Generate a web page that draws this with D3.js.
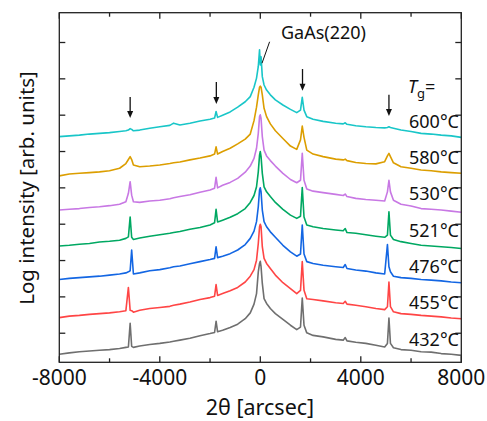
<!DOCTYPE html>
<html><head><meta charset="utf-8">
<script src="https://cdn.jsdelivr.net/npm/d3@7"></script>
<style>body{margin:0;background:#fff}svg{display:block}text{font-family:"Noto Sans","Open Sans",sans-serif;fill:#111}</style>
</head><body><svg id="c" width="487" height="421"></svg>
<script>
// 2θ positions (arcsec), shared by all scans
const twoTheta = [-8000,-7600,-7200,-6800,-6400,-6000,-5600,-5350,-5250,-5180,-5120,-5050,-4800,-4400,-4000,-3600,-3450,-3200,-2800,-2400,-2000,-1820,-1760,-1700,-1500,-1200,-900,-600,-400,-250,-150,-80,-30,0,30,80,150,250,400,600,900,1200,1450,1600,1670,1740,1850,2100,2500,3000,3300,3380,3450,3800,4200,4600,4950,5060,5120,5180,5300,5600,6000,6400,6800,7200,7600,8000];
// growth temperatures (bottom to top)
const temps = ["432°C","455°C","476°C","521°C","530°C","580°C","600°C"];
const colors = ["#6f6f6f","#ff4545","#1366e3","#00a862","#c878e4","#dc9e00","#19c6c8"];
// log10 intensity (arb. units, vertically offset scans)
const s432 = [-0.58,-0.54,-0.51,-0.49,-0.47,-0.45,-0.42,-0.39,-0.38,0.27,-0.36,-0.39,-0.35,-0.31,-0.28,-0.24,-0.22,-0.19,-0.14,-0.07,-0.01,0.02,0.33,0.04,0.08,0.16,0.25,0.40,0.56,0.80,1.09,1.69,1.92,1.98,1.83,1.37,0.95,0.82,0.68,0.54,0.38,0.22,0.10,0.17,0.97,0.22,0.01,-0.06,-0.10,-0.17,-0.19,-0.12,-0.21,-0.25,-0.28,-0.33,-0.38,-0.28,0.42,-0.28,-0.40,-0.45,-0.47,-0.51,-0.52,-0.56,-0.58,-0.61];
const s455 = [0.43,0.47,0.49,0.52,0.54,0.56,0.59,0.62,1.26,0.63,0.62,0.58,0.63,0.68,0.71,0.74,0.77,0.80,0.86,0.93,0.98,1.02,1.34,1.04,1.09,1.17,1.26,1.41,1.57,1.75,2.01,2.47,2.93,3.00,2.93,2.38,2.06,1.92,1.78,1.60,1.39,1.23,1.09,1.18,1.97,1.18,0.95,0.93,0.89,0.84,0.82,0.88,0.80,0.77,0.73,0.68,0.65,0.73,1.41,0.73,0.59,0.54,0.52,0.49,0.47,0.45,0.42,0.40];
const s476 = [1.48,1.51,1.53,1.55,1.57,1.60,1.63,1.66,1.69,1.72,2.29,1.63,1.66,1.72,1.75,1.80,1.83,1.85,1.91,1.97,2.03,2.06,2.38,2.08,2.12,2.19,2.29,2.44,2.61,2.81,3.07,3.48,3.94,4.00,3.89,3.39,3.07,2.93,2.79,2.64,2.42,2.24,2.12,2.18,2.98,2.18,1.97,1.92,1.87,1.83,1.81,1.89,1.78,1.74,1.71,1.66,1.63,2.44,1.83,1.69,1.57,1.53,1.51,1.48,1.46,1.44,1.41,1.39];
const s521 = [2.40,2.42,2.45,2.47,2.51,2.53,2.56,2.61,2.65,3.20,2.64,2.58,2.62,2.67,2.71,2.75,2.77,2.80,2.86,2.91,2.98,3.04,3.41,3.06,3.11,3.19,3.29,3.43,3.60,3.79,4.03,4.44,4.90,5.00,4.86,4.40,4.03,3.89,3.76,3.60,3.41,3.25,3.16,3.22,4.01,3.20,2.98,2.93,2.88,2.84,2.82,2.88,2.77,2.75,2.71,2.67,2.64,2.70,3.34,2.70,2.58,2.52,2.47,2.42,2.40,2.38,2.36,2.33];
const s530 = [3.39,3.41,3.43,3.46,3.48,3.51,3.55,3.62,3.85,4.17,3.80,3.62,3.60,3.64,3.66,3.70,3.73,3.76,3.81,3.88,3.94,3.99,4.29,4.00,4.07,4.15,4.26,4.43,4.60,4.81,5.09,5.50,5.96,6.01,5.91,5.41,5.04,4.88,4.75,4.60,4.40,4.23,4.14,4.21,4.95,4.21,3.97,3.91,3.87,3.82,3.79,3.83,3.76,3.71,3.68,3.66,3.64,3.89,4.21,3.89,3.66,3.55,3.50,3.43,3.41,3.39,3.36,3.33];
const s580 = [4.33,4.38,4.40,4.42,4.44,4.47,4.54,4.67,4.78,4.86,4.78,4.63,4.58,4.60,4.63,4.67,4.69,4.71,4.77,4.82,4.88,4.93,5.13,4.93,5.00,5.09,5.21,5.34,5.48,5.85,6.22,6.56,6.77,6.80,6.77,6.56,6.19,5.96,5.76,5.57,5.36,5.15,5.06,5.32,5.70,5.39,5.04,4.93,4.86,4.79,4.77,4.79,4.75,4.70,4.67,4.66,4.72,4.88,4.95,4.86,4.69,4.58,4.54,4.49,4.47,4.44,4.42,4.40];
const s600 = [5.41,5.43,5.45,5.48,5.50,5.52,5.55,5.57,5.59,5.63,5.61,5.57,5.59,5.64,5.68,5.72,5.78,5.73,5.78,5.84,5.89,5.92,6.10,5.94,6.00,6.09,6.22,6.37,6.51,6.77,7.02,7.34,7.80,7.38,7.61,7.06,6.83,6.69,6.56,6.42,6.28,6.16,6.07,6.14,6.49,6.14,5.96,5.89,5.83,5.78,5.76,5.79,5.75,5.71,5.68,5.66,5.65,5.66,5.68,5.66,5.64,5.59,5.55,5.50,5.48,5.45,5.43,5.39];
const series = [s432,s455,s476,s521,s530,s580,s600];
// x tick values
const xMajor = [-8000,-4000,0,4000,8000];
const xMinor = [-6000,-2000,2000,6000];
const yDecades = [0,1,2,3,4,5,6,7,8];
// arrows marking satellite peaks
const arrowX = [-5180,-1750,1680,5120];
const arrowTip = [5.92,6.31,6.67,5.98];
const arrowTail = [6.50,6.91,7.27,6.56];
// GaAs(220) leader line
const leaderX = [370,68];
const leaderY = [8.02,7.43];

const svg = d3.select("#c");
const L=59.3, R=461.3, T=12.7, B=362.3;
const x = d3.scaleLinear().domain([-8000,8000]).range([L,R]);
const y = d3.scaleLinear().domain([-0.8,8.82]).range([B,T]);

const g = svg.append("g");
const line = d3.line().x((d,i)=>x(twoTheta[i])).y(d=>y(d));
series.forEach((s,i)=>{
  g.append("path").datum(s).attr("d",line).attr("fill","none")
   .attr("stroke",colors[i]).attr("stroke-width",1.6).attr("stroke-linejoin","round");
});

// frame + ticks
const ax = svg.append("g").attr("stroke","#222").attr("stroke-width",1.3).attr("fill","none");
ax.append("rect").attr("x",L).attr("y",T).attr("width",R-L).attr("height",B-T);
xMajor.forEach(v=>{
  ax.append("line").attr("x1",x(v)).attr("x2",x(v)).attr("y1",B).attr("y2",B-6);
  ax.append("line").attr("x1",x(v)).attr("x2",x(v)).attr("y1",T).attr("y2",T+6);
});
xMinor.forEach(v=>{
  ax.append("line").attr("x1",x(v)).attr("x2",x(v)).attr("y1",B).attr("y2",B-4);
  ax.append("line").attr("x1",x(v)).attr("x2",x(v)).attr("y1",T).attr("y2",T+4);
});
yDecades.forEach(v=>{
  ax.append("line").attr("x1",L).attr("x2",L+6).attr("y1",y(v)).attr("y2",y(v));
  ax.append("line").attr("x1",R).attr("x2",R-6).attr("y1",y(v)).attr("y2",y(v));
});
xMajor.forEach(v=>{
  svg.append("text").attr("x",x(v)).attr("y",385).attr("text-anchor","middle")
    .attr("font-size",21).text(v);
});
svg.append("text").attr("x",260).attr("y",415).attr("text-anchor","middle")
  .attr("font-size",21.5).text("2θ [arcsec]");
svg.append("text").attr("transform","translate(34,188) rotate(-90)").attr("text-anchor","middle")
  .attr("font-size",20.5).text("Log intensity [arb. units]");

// temperature labels
temps.forEach((t,i)=>{
  svg.append("text").attr("x",459).attr("y",y(i)+12.5).attr("text-anchor","end")
    .attr("font-size",18).text(t);
});
const tg = svg.append("text").attr("x",408).attr("y",93.3).attr("font-size",18);
tg.append("tspan").attr("font-style","italic").text("T");
tg.append("tspan").attr("font-size",13).attr("dy",4.5).text("g");
tg.append("tspan").attr("dy",-4.5).text("=");

// arrows
arrowX.forEach((v,i)=>{
  const xx=x(v), y1=y(arrowTail[i]), y2=y(arrowTip[i]);
  svg.append("line").attr("x1",xx).attr("x2",xx).attr("y1",y1).attr("y2",y2-5)
    .attr("stroke","#111").attr("stroke-width",1.3);
  svg.append("path").attr("d",`M${xx-3},${y2-7}L${xx+3},${y2-7}L${xx},${y2}Z`).attr("fill","#111");
});
svg.append("line").attr("x1",x(leaderX[0])).attr("y1",y(leaderY[0]))
  .attr("x2",x(leaderX[1])).attr("y2",y(leaderY[1])).attr("stroke","#111").attr("stroke-width",1);
svg.append("text").attr("x",281).attr("y",39).attr("font-size",18).text("GaAs(220)");
</script></body></html>
